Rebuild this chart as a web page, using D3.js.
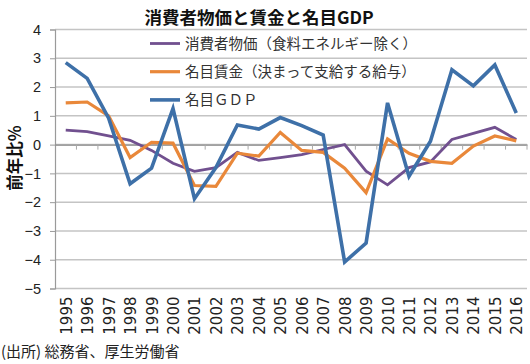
<!DOCTYPE html>
<html>
<head>
<meta charset="utf-8">
<script src="https://cdn.jsdelivr.net/npm/d3@7"></script>
<style>
  body { margin: 0; background: #fff; }
  text { font-family: "Noto Sans CJK JP", "Liberation Sans", sans-serif; }
</style>
</head>
<body>
<div id="chart"></div>
<script>
// data
const years = ["1995","1996","1997","1998","1999","2000","2001","2002","2003","2004","2005",
               "2006","2007","2008","2009","2010","2011","2012","2013","2014","2015","2016"];
const cpiCore = [0.5, 0.45, 0.3, 0.15, -0.2, -0.65, -0.93, -0.8, -0.27, -0.55, -0.45,
                 -0.35, -0.17, 0.0, -0.92, -1.4, -0.8, -0.6, 0.18, 0.39, 0.6, 0.18];
const wages = [1.45, 1.48, 1.0, -0.45, 0.08, 0.05, -1.42, -1.45, -0.3, -0.4, 0.42,
               -0.2, -0.27, -0.82, -1.67, 0.2, -0.3, -0.58, -0.65, -0.05, 0.3, 0.13];
const gdp = [2.85, 2.3, 0.92, -1.36, -0.82, 1.25, -1.88, -0.8, 0.68, 0.54, 0.94,
             0.66, 0.33, -4.08, -3.42, 1.45, -1.1, 0.12, 2.6, 2.04, 2.77, 1.1];
const yTicks = [4, 3, 2, 1, 0, -1, -2, -3, -4, -5];
const seriesNames = ["消費者物価（食料エネルギー除く）", "名目賃金（決まって支給する給与）", "名目ＧＤＰ"];

const W = 530, H = 364;
const margin = {top: 29.5, right: 3, bottom: 75.5, left: 55};
const width = W - margin.left - margin.right;
const height = H - margin.top - margin.bottom;

const svg = d3.select("#chart").append("svg")
  .attr("width", W).attr("height", H);

const g = svg.append("g")
  .attr("transform", `translate(${margin.left},${margin.top})`);

const x = d3.scaleBand().domain(years).range([0, width]);
const y = d3.scaleLinear().domain([-5, 4]).range([height, 0]);

// gridlines
g.selectAll("line.grid")
  .data(yTicks)
  .enter().append("line")
    .attr("class", "grid")
    .attr("x1", 0).attr("x2", width)
    .attr("y1", d => y(d)).attr("y2", d => y(d))
    .attr("stroke", "#c4c4c4")
    .attr("stroke-width", 1.5);

// y axis
const axeY = d3.axisLeft(y).tickValues(yTicks).tickSize(5).tickPadding(9);
const gy = g.append("g").call(axeY);
gy.select(".domain").attr("stroke", "#9a9a9a").attr("stroke-width", 1.2);
gy.selectAll(".tick line").attr("stroke", "#9a9a9a");
gy.selectAll(".tick text")
  .attr("fill", "#222")
  .style("font-family", "'Liberation Sans', sans-serif")
  .style("font-size", "14.5px");

// zero line acts as category axis
const axeX = d3.axisBottom(x).tickSize(0).tickFormat("");
const gx = g.append("g")
  .attr("transform", `translate(0,${y(0)})`)
  .call(axeX);
gx.select(".domain").attr("stroke", "#888").attr("stroke-width", 1.3);

// category boundary ticks on the zero line
g.selectAll("line.ctick")
  .data(years)
  .enter().append("line")
    .attr("class", "ctick")
    .attr("x1", d => x(d) + x.bandwidth())
    .attr("x2", d => x(d) + x.bandwidth())
    .attr("y1", y(0)).attr("y2", y(0) + 5)
    .attr("stroke", "#aaa");

// year labels at bottom, rotated
g.selectAll("text.year")
  .data(years)
  .enter().append("text")
    .attr("class", "year")
    .attr("transform", d => `translate(${x(d) + x.bandwidth() / 2 + 6},${height + 8}) rotate(-90)`)
    .attr("text-anchor", "end")
    .style("font-family", "'DejaVu Sans', sans-serif")
    .style("font-size", "15px")
    .attr("fill", "#222")
    .text(d => d);

const line = d3.line()
  .x((d, i) => x(years[i]) + x.bandwidth() / 2)
  .y(d => y(d));

const series = [
  {name: seriesNames[0], values: cpiCore, color: "#71508f", w: 2.8},
  {name: seriesNames[1], values: wages, color: "#e9883a", w: 3.2},
  {name: seriesNames[2], values: gdp, color: "#3e70a8", w: 3.6}
];

g.selectAll("path.series")
  .data(series)
  .enter().append("path")
    .attr("class", "series")
    .attr("d", d => line(d.values))
    .attr("fill", "none")
    .attr("stroke", d => d.color)
    .attr("stroke-width", d => d.w)
    .attr("stroke-linejoin", "miter");

// legend
const legend = svg.selectAll("g.legend")
  .data(series)
  .enter().append("g")
    .attr("class", "legend")
    .attr("transform", (d, i) => `translate(150,${43.5 + i * 28.2})`);

legend.append("line")
  .attr("x1", 0).attr("x2", 30)
  .attr("stroke", d => d.color)
  .attr("stroke-width", d => d.w);

legend.append("text")
  .attr("x", 35).attr("y", 5)
  .style("font-size", "14.5px")
  .attr("fill", "#333")
  .text(d => d.name);

// title
svg.append("text")
  .attr("x", 259).attr("y", 24)
  .attr("text-anchor", "middle")
  .style("font-size", "17.5px")
  .style("font-weight", "bold")
  .attr("fill", "#111")
  .text("消費者物価と賃金と名目GDP");

// y axis title
svg.append("text")
  .attr("transform", "translate(21,158) rotate(-90)")
  .attr("text-anchor", "middle")
  .style("font-size", "16.5px")
  .style("font-weight", "bold")
  .attr("fill", "#111")
  .text("前年比%");

// source note
svg.append("text")
  .attr("x", 1).attr("y", 357)
  .style("font-size", "15px")
  .attr("fill", "#222")
  .text("(出所) 総務省、厚生労働省");
</script>
</body>
</html>
